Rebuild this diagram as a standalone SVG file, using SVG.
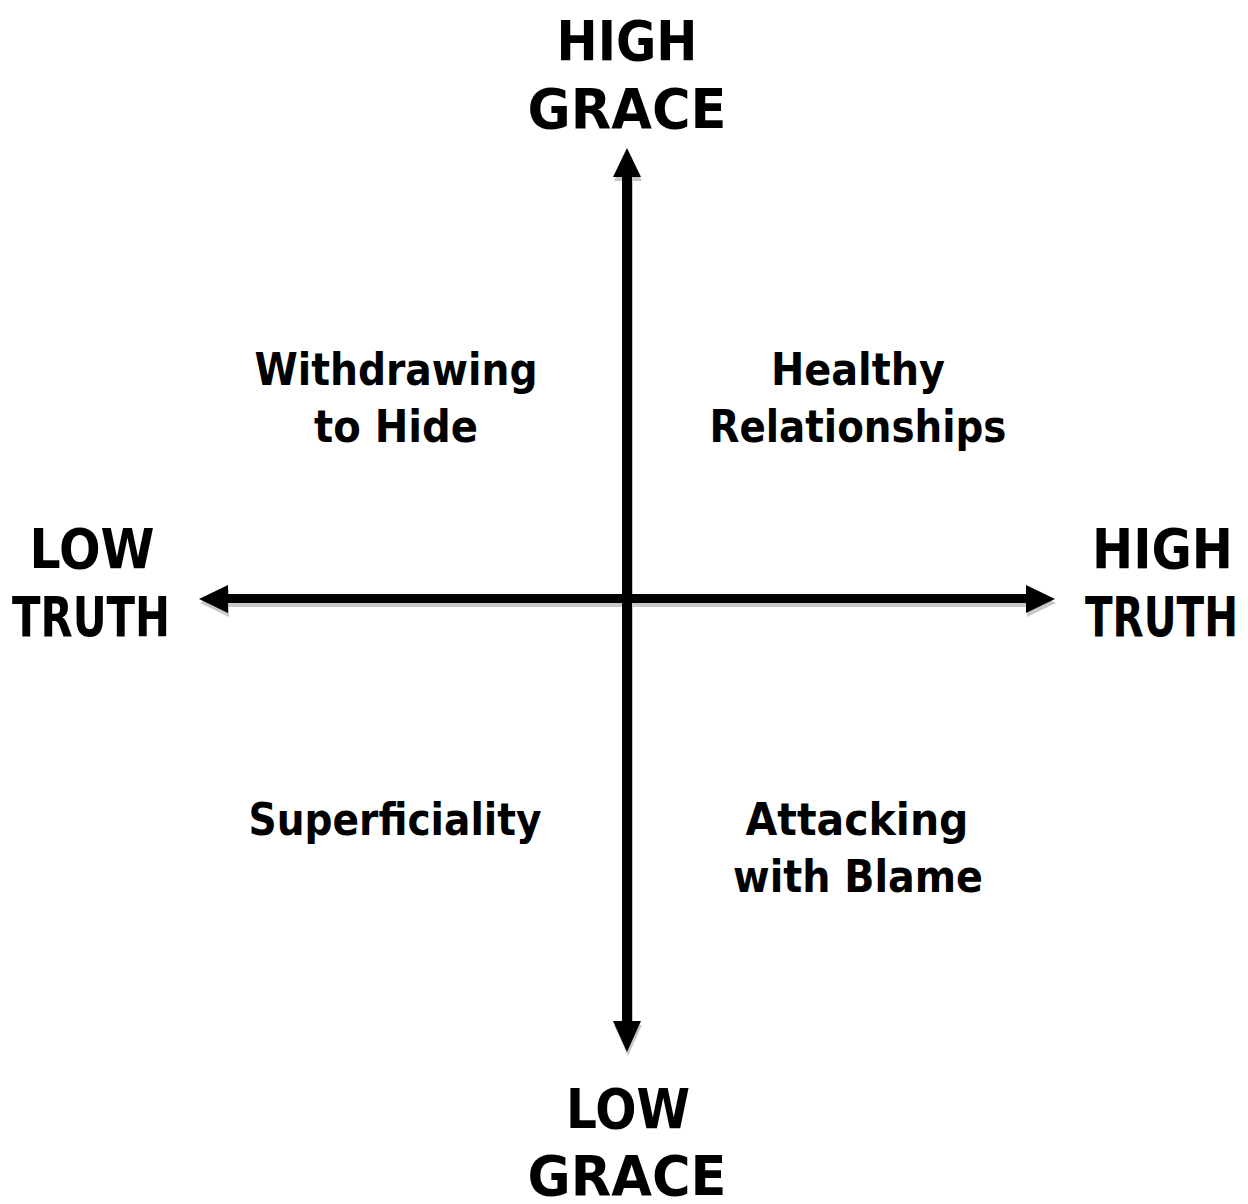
<svg xmlns="http://www.w3.org/2000/svg" width="1248" height="1204" viewBox="0 0 1248 1204">
<style>
.axis{font-family:"DejaVu Sans","Liberation Sans",sans-serif;font-weight:bold;font-size:56px;fill:#000;text-anchor:middle}
.quad{font-family:"DejaVu Sans","Liberation Sans",sans-serif;font-weight:bold;font-size:44px;fill:#000;text-anchor:middle}
.shadow{fill:#c8c8c8}
</style>
<defs>
<g id="axes">
<rect x="622" y="174" width="10" height="850"/>
<polygon points="627,148 641,177 613,177"/>
<polygon points="627,1052 641,1021 613,1021"/>
<rect x="225" y="594" width="804" height="9"/>
<polygon points="199,599 228,585 228,613"/>
<polygon points="1055,599 1026,585 1026,613"/>
</g>
</defs>
<rect width="1248" height="1204" fill="#fff"/>
<g id="connectors">
<use href="#axes" class="shadow" transform="translate(1,4)"/>
<use href="#axes" fill="#000"/>
</g>
<g id="high-grace"><text class="axis" x="627" y="60" textLength="141" lengthAdjust="spacingAndGlyphs">HIGH</text><text class="axis" x="627" y="128" textLength="199" lengthAdjust="spacingAndGlyphs">GRACE</text></g>
<g id="low-grace"><text class="axis" x="628" y="1128" textLength="124" lengthAdjust="spacingAndGlyphs">LOW</text><text class="axis" x="627" y="1195" textLength="199" lengthAdjust="spacingAndGlyphs">GRACE</text></g>
<g id="low-truth"><text class="axis" x="92" y="568" textLength="125" lengthAdjust="spacingAndGlyphs">LOW</text><text class="axis" x="91" y="636" textLength="158" lengthAdjust="spacingAndGlyphs">TRUTH</text></g>
<g id="high-truth"><text class="axis" x="1233" y="568" style="text-anchor:end" textLength="141" lengthAdjust="spacingAndGlyphs">HIGH</text><text class="axis" x="1238" y="636" style="text-anchor:end" textLength="153" lengthAdjust="spacingAndGlyphs">TRUTH</text></g>
<g id="withdrawing"><text class="quad" x="396" y="385" textLength="283" lengthAdjust="spacingAndGlyphs">Withdrawing</text><text class="quad" x="396" y="442" textLength="164" lengthAdjust="spacingAndGlyphs">to Hide</text></g>
<g id="healthy"><text class="quad" x="858" y="385" textLength="174" lengthAdjust="spacingAndGlyphs">Healthy</text><text class="quad" x="858" y="442" textLength="297" lengthAdjust="spacingAndGlyphs">Relationships</text></g>
<g id="superficiality"><text class="quad" x="395" y="835" textLength="293" lengthAdjust="spacingAndGlyphs">Superficiality</text></g>
<g id="attacking"><text class="quad" x="857" y="835" textLength="223" lengthAdjust="spacingAndGlyphs">Attacking</text><text class="quad" x="858" y="892" textLength="250" lengthAdjust="spacingAndGlyphs">with Blame</text></g>
</svg>
